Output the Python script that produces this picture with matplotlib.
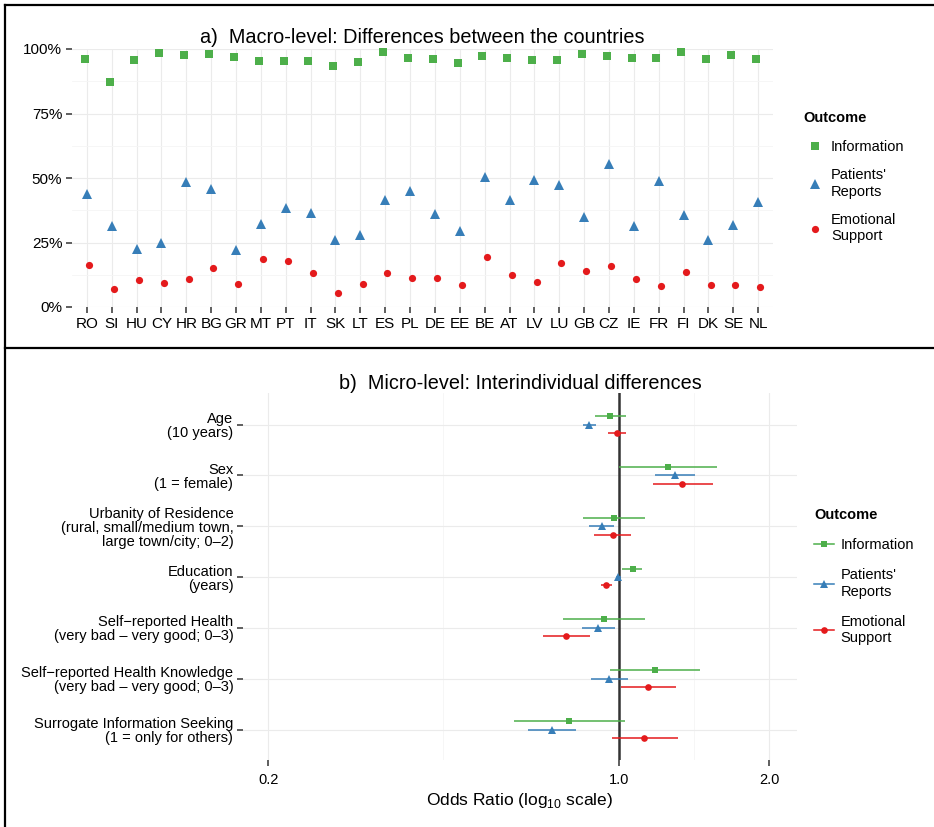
import numpy as np
import matplotlib.pyplot as plt
from matplotlib.lines import Line2D
from matplotlib.ticker import FixedLocator, NullFormatter

plt.rcParams['font.family'] = ['Liberation Sans', 'DejaVu Sans']
plt.rcParams['mathtext.fontset'] = 'custom'
plt.rcParams['mathtext.rm'] = 'Liberation Sans'

# ---- panel a data (share of respondents, %) ----
countries = ['RO', 'SI', 'HU', 'CY', 'HR', 'BG', 'GR', 'MT', 'PT', 'IT', 'SK', 'LT', 'ES', 'PL',
             'DE', 'EE', 'BE', 'AT', 'LV', 'LU', 'GB', 'CZ', 'IE', 'FR', 'FI', 'DK', 'SE', 'NL']
info_pct = [96.1, 87.1, 95.6, 98.4, 97.8, 98.2, 96.9, 95.2, 95.2, 95.3, 93.3, 95.1, 98.7, 96.4,
            96.3, 94.6, 97.2, 96.6, 95.9, 95.6, 98.1, 97.4, 96.5, 96.5, 98.7, 96.3, 97.8, 96.3]
reports_pct = [43.8, 31.4, 22.6, 24.7, 48.6, 45.7, 22.2, 32.0, 38.4, 36.4, 25.8, 28.0, 41.3, 44.8,
               36.0, 29.5, 50.5, 41.3, 49.2, 47.2, 34.9, 55.3, 31.3, 48.7, 35.7, 25.8, 31.9, 40.6]
support_pct = [16.4, 7.1, 10.5, 9.3, 11.0, 15.2, 8.9, 18.5, 18.0, 13.3, 5.4, 9.0, 13.2, 11.4,
               11.1, 8.7, 19.5, 12.5, 9.7, 16.9, 14.1, 15.8, 11.0, 8.0, 13.4, 8.4, 8.7, 7.8]

# ---- panel b data (odds ratios with 95% CI) ----
predictors = ['Age\n(10 years)',
              'Sex\n(1 = female)',
              'Urbanity of Residence\n(rural, small/medium town,\nlarge town/city; 0\u20132)',
              'Education\n(years)',
              'Self\u2212reported Health\n(very bad \u2013 very good; 0\u20133)',
              'Self\u2212reported Health Knowledge\n(very bad \u2013 very good; 0\u20133)',
              'Surrogate Information Seeking\n(1 = only for others)']
info_or = [0.963, 1.253, 0.979, 1.066, 0.935, 1.183, 0.798]
info_lo = [0.897, 1.000, 0.848, 1.018, 0.775, 0.961, 0.617]
info_hi = [1.033, 1.571, 1.131, 1.116, 1.131, 1.456, 1.029]
reports_or = [0.874, 1.296, 0.927, 0.998, 0.911, 0.958, 0.738]
reports_lo = [0.851, 1.181, 0.873, 0.986, 0.846, 0.880, 0.660]
reports_hi = [0.900, 1.418, 0.980, 1.011, 0.982, 1.045, 0.823]
support_or = [0.991, 1.340, 0.973, 0.945, 0.786, 1.147, 1.126]
support_lo = [0.951, 1.169, 0.895, 0.922, 0.706, 1.012, 0.968]
support_hi = [1.033, 1.540, 1.060, 0.970, 0.876, 1.302, 1.314]

outcomes = ['Information', "Patients'\nReports", 'Emotional\nSupport']
colors = ['#4DAF4A', '#377EB8', '#E41A1C']
markers = ['s', '^', 'o']

W, H = 934, 827
fig = plt.figure(figsize=(W / 100, H / 100), dpi=100)


def fbox(l, t, r, b):
    return [l / W, 1 - b / H, (r - l) / W, (b - t) / H]


def style_axis(ax):
    for s in ax.spines.values():
        s.set_visible(False)
    ax.tick_params(which='major', length=4, width=1.1, color='#333333', pad=3)
    ax.tick_params(which='minor', length=0)
    ax.grid(which='major', color='#EBEBEB', lw=0.8)
    ax.grid(which='minor', color='#F5F5F5', lw=0.6)
    ax.set_axisbelow(True)


# ---------------- panel a ----------------
ax1 = fig.add_axes(fbox(72, 49, 773, 307))
style_axis(ax1)
x = np.arange(len(countries))
series_a = [info_pct, reports_pct, support_pct]
sizes_a = [5.2, 6.8, 5.2]
for k, vals in enumerate(series_a):
    ax1.plot(x + (k - 1) * 0.09, np.array(vals) / 100, ls='none', marker=markers[k],
             ms=sizes_a[k], color=colors[k], mew=0, clip_on=False, zorder=3)
ax1.set_xlim(-0.6, len(countries) - 0.4)
ax1.set_ylim(0, 1)
ax1.set_xticks(x)
ax1.set_xticklabels(countries, fontsize=11)
ax1.set_yticks([0, 0.25, 0.5, 0.75, 1.0])
ax1.set_yticklabels(['0%', '25%', '50%', '75%', '100%'], fontsize=11)
ax1.yaxis.set_minor_locator(FixedLocator([0.125, 0.375, 0.625, 0.875]))
ax1.set_title('a)  Macro-level: Differences between the countries', fontsize=14.3, pad=4)

h_a = [Line2D([], [], ls='none', marker=markers[k], ms=sizes_a[k], color=colors[k], mew=0)
       for k in range(3)]
leg1 = fig.legend(h_a, outcomes, title='Outcome', loc='upper left',
                  bbox_to_anchor=(796 / W, 1 - 104 / H), frameon=False, fontsize=10.5,
                  title_fontproperties={'weight': 'bold', 'size': 10.5},
                  handlelength=1.6, handletextpad=0.3, labelspacing=1.0, borderpad=0,
                  alignment='left')

# ---------------- panel b ----------------
ax2 = fig.add_axes(fbox(243, 393, 797, 760))
style_axis(ax2)
ax2.set_xscale('log')
y = np.arange(len(predictors))
series_b = [(info_or, info_lo, info_hi), (reports_or, reports_lo, reports_hi),
            (support_or, support_lo, support_hi)]
sizes_b = [4.8, 6.2, 4.8]
ax2.axvline(1.0, color='#333333', lw=1.8, zorder=2)
for k, (est, lo, hi) in enumerate(series_b):
    yy = y + (k - 1) * 0.167
    ax2.hlines(yy, lo, hi, color=colors[k], lw=1.1, zorder=3)
    ax2.plot(est, yy, ls='none', marker=markers[k], ms=sizes_b[k], color=colors[k],
             mew=0, zorder=4)
ax2.set_xlim(0.178, 2.27)
ax2.set_ylim(len(predictors) - 0.4, -0.62)
ax2.set_yticks(y)
ax2.set_yticklabels(predictors, fontsize=10.5, linespacing=1.0)
ax2.xaxis.set_major_locator(FixedLocator([0.2, 1.0, 2.0]))
ax2.xaxis.set_minor_locator(FixedLocator([0.2 ** 0.5, 2 ** 0.5]))
ax2.xaxis.set_major_formatter(plt.FixedFormatter(['0.2', '1.0', '2.0']))
ax2.xaxis.set_minor_formatter(NullFormatter())
ax2.tick_params(axis='x', labelsize=10.5, pad=5)
ax2.set_xlabel(r'Odds Ratio (log$_{10}$ scale)', fontsize=12.5, labelpad=3)
ax2.set_title('b)  Micro-level: Interindividual differences', fontsize=14.3, pad=3)

h_b = [Line2D([], [], marker=markers[k], ms=sizes_b[k], color=colors[k], mew=0, lw=1.1)
       for k in range(3)]
leg2 = fig.legend(h_b, outcomes, title='Outcome', loc='upper left',
                  bbox_to_anchor=(807 / W, 1 - 501 / H), frameon=False, fontsize=10.5,
                  title_fontproperties={'weight': 'bold', 'size': 10.5},
                  handlelength=1.35, handletextpad=0.45, labelspacing=1.1, borderpad=0,
                  alignment='left')

# frame lines around the figure panels
fig.add_artist(Line2D([5 / W, 5 / W], [0, 1 - 4.5 / H], transform=fig.transFigure,
                      color='black', lw=1.6))
fig.add_artist(Line2D([5 / W, 1], [1 - 4.5 / H, 1 - 4.5 / H], transform=fig.transFigure,
                      color='black', lw=1.6))
fig.add_artist(Line2D([5 / W, 1], [1 - 348 / H, 1 - 348 / H], transform=fig.transFigure,
                      color='black', lw=1.6))

fig.savefig('out.png', dpi=100, facecolor='white')
